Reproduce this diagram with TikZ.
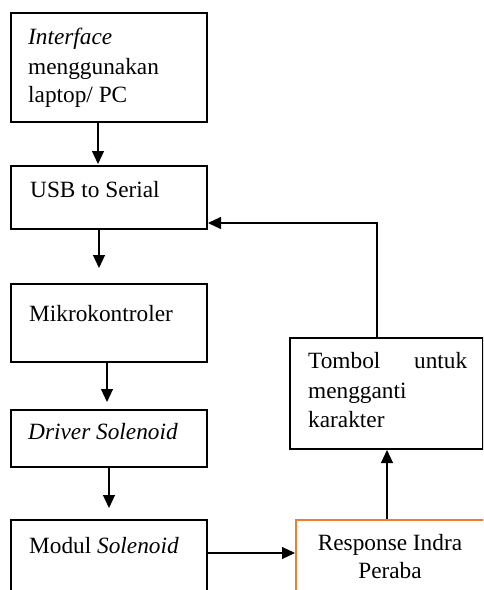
\documentclass[tikz,border=0pt]{standalone}
\usepackage{fontspec}
\setmainfont{Liberation Serif}
\usetikzlibrary{arrows.meta}
\definecolor{boxorange}{HTML}{ED7D31}
\begin{document}
\begin{tikzpicture}[x=1pt,y=-1pt,
  box/.style={draw=black,line width=2pt,rectangle,anchor=north west,inner sep=0pt},
  obox/.style={draw=boxorange,line width=2pt,rectangle,anchor=north west,inner sep=0pt},
  txt/.style={inner sep=0pt,font=\fontsize{23.3}{29}\selectfont},
  arr/.style={draw=black,line width=1.1pt,-{Triangle[width=12pt,length=13pt]}}]
\clip (0,0) rectangle (483,590);
\fill[white] (0,0) rectangle (483,590);
% boxes
\node[box,minimum width=196pt,minimum height=109pt] (b1) at (10,12) {};
\node[box,minimum width=196pt,minimum height=63pt] (b2) at (10,165) {};
\node[box,minimum width=196pt,minimum height=78pt] (b3) at (10,283) {};
\node[box,minimum width=196pt,minimum height=57pt] (b4) at (10,409) {};
\node[box,minimum width=196pt,minimum height=110pt] (b5) at (10,519) {};
\node[box,minimum width=193pt,minimum height=111pt] (t) at (289,337) {};
\node[obox,minimum width=225pt,minimum height=110pt] (r) at (295,519) {};
% texts
\node[txt,anchor=base west] (l1a) at (28,44) {\textit{Interface}};
\node[txt,anchor=base west] (l1b) at (28,74) {menggunakan};
\node[txt,anchor=base west] (l1c) at (28,102) {laptop/ PC};
\node[txt,anchor=base west] (l2) at (30,197) {USB to Serial};
\node[txt,anchor=base west] (l3) at (29,321) {Mikrokontroler};
\node[txt,anchor=base west] (l4) at (28,439) {\textit{Driver Solenoid}};
\node[txt,anchor=base west] (l5) at (29,553) {Modul \textit{Solenoid}};
\node[txt,anchor=base west] (lta) at (308,368) {\hbox to 159pt{Tombol\hfill untuk}};
\node[txt,anchor=base west] (ltb) at (308,398) {mengganti};
\node[txt,anchor=base west] (ltc) at (308,427) {karakter};
\node[txt,anchor=base] (lra) at (390,550) {Response Indra};
\node[txt,anchor=base] (lrb) at (390,578) {Peraba};
% connectors
\draw[arr] ([xshift=-11pt]b1.south) -- ([xshift=-11pt,yshift=1pt]b2.north);
\draw[arr,shorten >=15pt] ([xshift=-10pt]b2.south) -- ([xshift=-10pt]b3.north);
\draw[arr,shorten >=7pt] ([xshift=-2pt]b3.south) -- ([xshift=-2pt]b4.north);
\draw[arr,shorten >=11pt] (b4.south) -- (b5.north);
\draw[arr] (b5.east |- l5.base) ++(0,0) coordinate (c5) -- (r.west |- c5);
\draw[arr] (r.north -| 387,0) -- (t.south -| 387,0);
\draw[arr] (t.north -| 377,0) -- (377,223) -- (b2.east |- 0,223);
\end{tikzpicture}
\end{document}
